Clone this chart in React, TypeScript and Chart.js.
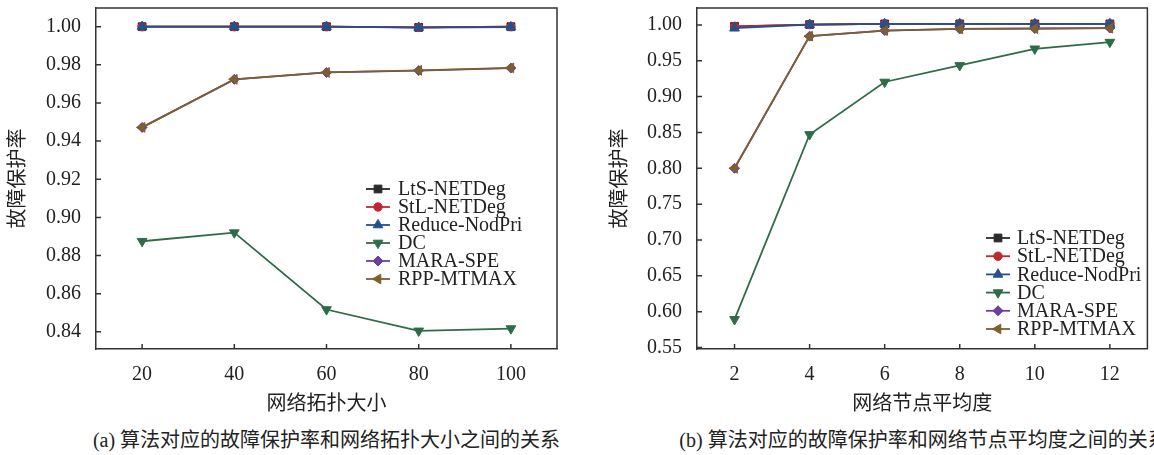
import React, { useEffect, useRef } from 'react';
import { Chart, registerables } from 'chart.js';

Chart.register(...registerables);

// ---------- data ----------
const SERIES_NAMES = ['LtS-NETDeg', 'StL-NETDeg', 'Reduce-NodPri', 'DC', 'MARA-SPE', 'RPP-MTMAX'];

// (a) network topology size
const topoSizes = [20, 40, 60, 80, 100];
const topoLtS = [1.0, 1.0, 1.0, 0.9996, 1.0];
const topoStL = [1.0, 1.0, 1.0, 0.9996, 1.0];
const topoReduce = [1.0, 1.0, 1.0, 0.9995, 0.9998];
const topoDC = [0.8875, 0.892, 0.8517, 0.8405, 0.8417];
const topoMARA = [0.9472, 0.9724, 0.976, 0.977, 0.9783];
const topoRPP = [0.9472, 0.9724, 0.976, 0.9771, 0.9784];
const topoXTicks = [20, 40, 60, 80, 100];
const topoYTicks = [0.84, 0.86, 0.88, 0.9, 0.92, 0.94, 0.96, 0.98, 1.0];

// (b) average node degree
const degrees = [2, 4, 6, 8, 10, 12];
const degLtS = [0.998, 1.0005, 1.0014, 1.0014, 1.0014, 1.0014];
const degStL = [0.998, 1.0005, 1.0014, 1.0014, 1.0014, 1.0014];
const degReduce = [0.9954, 1.0004, 1.0014, 1.0014, 1.0014, 1.0014];
const degDC = [0.5893, 0.8472, 0.9204, 0.9435, 0.9667, 0.976];
const degMARA = [0.8, 0.9843, 0.9921, 0.9944, 0.995, 0.9956];
const degRPP = [0.8, 0.9843, 0.9921, 0.9944, 0.9949, 0.9954];
const degXTicks = [2, 4, 6, 8, 10, 12];
const degYTicks = [0.55, 0.6, 0.65, 0.7, 0.75, 0.8, 0.85, 0.9, 0.95, 1.0];

// ---------- styles ----------
const SERIES_COLORS = ['#2b2b2b', '#c0272d', '#24508f', '#2f6b48', '#6b3fa0', '#7d5f30'];
const SERIES_SHAPES = ['rect', 'circle', 'triangle', 'triangle', 'rectRot', 'triangle'];
const SERIES_ROT = [0, 0, 0, 180, 0, -90];
const SERIES_RADIUS = [5.5, 4.2, 5.6, 5.6, 5, 5.6];
const SERIES_ORDER = [4, 3, 1, 5, 2, 0];

const FONT = '"Liberation Serif", "Times New Roman", "Noto Sans CJK SC", serif';
const TEXT = '#222';
const AXIS = '#333';
const CW = 577;
const CH = 425;

function drawMarker(ctx: CanvasRenderingContext2D, shape: string, x: number, y: number, r: number, rotDeg: number) {
  const rad = (rotDeg * Math.PI) / 180;
  ctx.beginPath();
  if (shape === 'circle') {
    ctx.arc(x, y, r, 0, Math.PI * 2);
  } else if (shape === 'rect') {
    const s = r * Math.SQRT1_2;
    ctx.rect(x - s, y - s, 2 * s, 2 * s);
  } else if (shape === 'rectRot') {
    ctx.moveTo(x, y - r);
    ctx.lineTo(x + r, y);
    ctx.lineTo(x, y + r);
    ctx.lineTo(x - r, y);
    ctx.closePath();
  } else {
    let a = rad;
    ctx.moveTo(x + Math.sin(a) * r, y - Math.cos(a) * r);
    a += (2 * Math.PI) / 3;
    ctx.lineTo(x + Math.sin(a) * r, y - Math.cos(a) * r);
    a += (2 * Math.PI) / 3;
    ctx.lineTo(x + Math.sin(a) * r, y - Math.cos(a) * r);
    ctx.closePath();
  }
  ctx.fill();
  ctx.stroke();
}

const frameLegendPlugin = {
  id: 'frameLegend',
  afterDatasetsDraw(chart: any, _args: any, opts: any) {
    const { ctx, chartArea: a } = chart;
    ctx.save();
    ctx.strokeStyle = AXIS;
    ctx.lineWidth = 1.5;
    ctx.beginPath();
    ctx.moveTo(a.left, a.top);
    ctx.lineTo(a.right, a.top);
    ctx.lineTo(a.right, a.bottom);
    const ys = chart.scales.y;
    ys.ticks.forEach((t: any) => {
      const py = ys.getPixelForValue(t.value);
      ctx.moveTo(a.left, py);
      ctx.lineTo(a.left + 5, py);
    });
    const xs = chart.scales.x;
    xs.ticks.forEach((t: any) => {
      const px = xs.getPixelForValue(t.value);
      ctx.moveTo(px, a.bottom);
      ctx.lineTo(px, a.bottom - 5);
    });
    ctx.stroke();

    // legend
    ctx.font = `20px ${FONT}`;
    ctx.textBaseline = 'middle';
    ctx.textAlign = 'left';
    chart.data.datasets.forEach((ds: any, i: number) => {
      const y = opts.y0 + i * opts.dy;
      ctx.strokeStyle = SERIES_COLORS[i];
      ctx.fillStyle = SERIES_COLORS[i];
      ctx.lineWidth = 1.8;
      ctx.beginPath();
      ctx.moveTo(opts.x0, y);
      ctx.lineTo(opts.x1, y);
      ctx.stroke();
      ctx.lineWidth = 1;
      drawMarker(ctx, SERIES_SHAPES[i], (opts.x0 + opts.x1) / 2, y, SERIES_RADIUS[i], SERIES_ROT[i]);
      ctx.fillStyle = TEXT;
      ctx.fillText(ds.label, opts.tx, y + 1);
    });
    ctx.restore();
  },
};

type Panel = {
  xs: number[];
  series: number[][];
  xTicks: number[];
  yTicks: number[];
  xMin: number;
  xMax: number;
  yMin: number;
  yMax: number;
  left: number;
  right: number;
  top: number;
  bottom: number;
  xTitle: string;
  yTitlePad: number;
  legend: { x0: number; x1: number; tx: number; y0: number; dy: number };
};

function buildConfig(p: Panel): any {
  return {
    type: 'line',
    data: {
      datasets: p.series.map((vals, i) => ({
        label: SERIES_NAMES[i],
        data: p.xs.map((x, j) => ({ x, y: vals[j] })),
        borderColor: SERIES_COLORS[i],
        backgroundColor: SERIES_COLORS[i],
        pointBackgroundColor: SERIES_COLORS[i],
        pointBorderColor: SERIES_COLORS[i],
        pointStyle: SERIES_SHAPES[i],
        pointRotation: SERIES_ROT[i],
        pointRadius: SERIES_RADIUS[i],
        pointBorderWidth: 1,
        borderWidth: 1.8,
        order: SERIES_ORDER[i],
        tension: 0,
        clip: false,
      })),
    },
    options: {
      animation: false,
      responsive: false,
      devicePixelRatio: 1,
      layout: { padding: { left: 0, top: p.top, right: CW - p.right, bottom: 0 } },
      plugins: {
        legend: { display: false },
        tooltip: { enabled: false },
        frameLegend: p.legend,
      },
      scales: {
        x: {
          type: 'linear',
          min: p.xMin,
          max: p.xMax,
          afterBuildTicks: (s: any) => {
            s.ticks = p.xTicks.map((v) => ({ value: v }));
          },
          afterFit: (s: any) => {
            s.height = CH - p.bottom;
            s.paddingLeft = 0;
            s.paddingRight = 0;
            s.paddingTop = 0;
            s.paddingBottom = 0;
          },
          grid: { display: false, drawTicks: false },
          border: { display: true, color: AXIS, width: 1.5 },
          ticks: {
            font: { family: FONT, size: 20 },
            color: TEXT,
            padding: 14,
            autoSkip: false,
            maxRotation: 0,
            callback: (v: any) => String(v),
          },
          title: {
            display: true,
            text: p.xTitle,
            font: { family: FONT, size: 20 },
            color: TEXT,
            padding: { top: 0, bottom: 8 },
          },
        },
        y: {
          type: 'linear',
          min: p.yMin,
          max: p.yMax,
          afterBuildTicks: (s: any) => {
            s.ticks = p.yTicks.map((v) => ({ value: v }));
          },
          afterFit: (s: any) => {
            s.width = p.left;
            s.paddingTop = 0;
            s.paddingBottom = 0;
            s.paddingLeft = 0;
            s.paddingRight = 0;
          },
          grid: { display: false, drawTicks: false },
          border: { display: true, color: AXIS, width: 1.5 },
          ticks: {
            font: { family: FONT, size: 20 },
            color: TEXT,
            padding: 15,
            autoSkip: false,
            callback: (v: any) => Number(v).toFixed(2),
          },
          title: {
            display: true,
            text: '故障保护率',
            font: { family: FONT, size: 20 },
            color: TEXT,
            padding: { top: p.yTitlePad, bottom: 0 },
          },
        },
      },
    },
    plugins: [frameLegendPlugin],
  };
}

const panelA: Panel = {
  xs: topoSizes,
  series: [topoLtS, topoStL, topoReduce, topoDC, topoMARA, topoRPP],
  xTicks: topoXTicks,
  yTicks: topoYTicks,
  xMin: 10,
  xMax: 110,
  yMin: 0.831,
  yMax: 1.0098,
  left: 96,
  right: 557,
  top: 8,
  bottom: 349,
  xTitle: '网络拓扑大小',
  yTitlePad: 7,
  legend: { x0: 366, x1: 390, tx: 398, y0: 189, dy: 18 },
};

const panelB: Panel = {
  xs: degrees,
  series: [degLtS, degStL, degReduce, degDC, degMARA, degRPP],
  xTicks: degXTicks,
  yTicks: degYTicks,
  xMin: 1,
  xMax: 13,
  yMin: 0.548,
  yMax: 1.0236,
  left: 120,
  right: 573,
  top: 8,
  bottom: 349,
  xTitle: '网络节点平均度',
  yTitlePad: 32,
  legend: { x0: 409, x1: 433, tx: 440, y0: 238, dy: 18.2 },
};

function LineChart({ panel, left }: { panel: Panel; left: number }) {
  const ref = useRef<HTMLCanvasElement>(null);
  useEffect(() => {
    const chart = new Chart(ref.current as HTMLCanvasElement, buildConfig(panel));
    return () => chart.destroy();
  }, [panel]);
  return (
    <canvas
      ref={ref}
      width={CW}
      height={CH}
      style={{ position: 'absolute', left, top: 0, width: CW, height: CH }}
    />
  );
}

const captionStyle = (center: number): React.CSSProperties => ({
  position: 'absolute',
  top: 429,
  left: center - 300,
  width: 600,
  textAlign: 'center',
  fontFamily: FONT,
  fontSize: 20,
  lineHeight: '22px',
  color: TEXT,
  whiteSpace: 'nowrap',
});

export default function App() {
  return (
    <div
      style={{
        position: 'fixed',
        left: 0,
        top: 0,
        width: 1154,
        height: 455,
        overflow: 'hidden',
        background: '#fff',
      }}
    >
      <LineChart panel={panelA} left={0} />
      <LineChart panel={panelB} left={577} />
      <div style={captionStyle(326.5)}>(a) 算法对应的故障保护率和网络拓扑大小之间的关系</div>
      <div style={captionStyle(577 + 346.5)}>(b) 算法对应的故障保护率和网络节点平均度之间的关系</div>
    </div>
  );
}
